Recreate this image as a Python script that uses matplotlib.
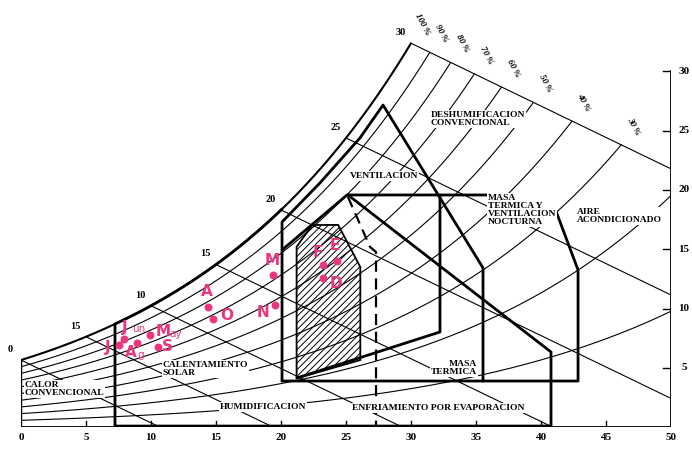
import numpy as np
import matplotlib.pyplot as plt
from matplotlib.patches import Polygon

plt.rcParams['font.family'] = ['Liberation Serif', 'DejaVu Serif']
plt.rcParams['hatch.linewidth'] = 0.7

# relative humidity curves and wet bulb lines of the chart
rh_levels = [1.0, 0.9, 0.8, 0.7, 0.6, 0.5, 0.4, 0.3, 0.2, 0.1]
rh_labels = ["100 %", "90 %", "80 %", "70 %", "60 %", "50 %", "40 %", "30 %"]
wb_temps = [0, 5, 10, 15, 20, 25, 30]
wb_texts = ["0", "15", "10", "15", "20", "25", "30"]

x_ticks = [0, 5, 10, 15, 20, 25, 30, 35, 40, 45, 50]
y_ticks = [5, 10, 15, 20, 25, 30]

# monthly mean conditions (dry bulb C, humidity ratio g/kg)
months = ["E", "F", "M", "A", "M", "J", "J", "A", "S", "O", "N", "D"]
suffix = ["", "", "", "", "ay", "un", "", "g", "", "", "", ""]
temp = [24.3, 23.2, 19.4, 14.4, 9.9, 7.9, 7.5, 8.9, 10.5, 14.8, 19.5, 23.2]
hum = [14.0, 13.7, 12.8, 10.1, 7.8, 7.4, 6.9, 7.1, 6.75, 9.1, 10.3, 12.6]

# zone outlines (dry bulb, humidity ratio)
comfort_t = [21.2, 21.2, 22.4, 24.4, 26.1, 26.1]
comfort_w = [4.1, 15.2, 17.05, 17.05, 13.5, 5.65]

heating_t = [7.23, 7.23, 40.77, 40.77, 25.15]
heating_w = [8.69, 0.08, 0.08, 6.33, 19.58]

mass_vn_t = [20.08, 25.08, 40.69, 42.85, 42.85, 20.08]
mass_vn_w = [14.94, 19.58, 19.58, 13.25, 3.88, 3.88]

vent_t = [20.08, 20.08, 23.0, 26.08, 27.85, 35.54, 35.54]
vent_w = [3.88, 17.3, 20.6, 24.4, 27.17, 13.42, 3.88]

mass_t = [32.23, 32.23, 21.23]
mass_w = [19.58, 8.02, 4.14]

dash_t = [25.15, 26.85, 27.31, 27.31]
dash_w = [19.41, 15.19, 14.77, 0.0]

WB_SLOPE = 0.53


def w_sat(t):
    return 5.65 * np.exp(0.06 * t - 0.00006 * t ** 2)


def w_top(t):
    return w_sat(30) - WB_SLOPE * (t - 30)


fig = plt.figure(figsize=(6.92, 4.54), dpi=100)
ax = fig.add_axes([21 / 692, 27 / 454, 650 / 692, 427 / 454])
ax.set_xlim(0, 50)
ax.set_ylim(0, 427 / 11.85)
ax.axis("off")

# RH curves, cut at the 30 C wet bulb line
t = np.linspace(0, 50, 2000)
for r in rh_levels:
    w = r * w_sat(t)
    keep = w <= w_top(t)
    lw = 1.5 if r == 1.0 else 0.8
    ax.plot(t[keep], w[keep], color="k", lw=lw, zorder=2)

# wet bulb lines
for tw in wb_temps:
    w0 = w_sat(tw)
    t_end = min(50, tw + w0 / WB_SLOPE)
    ax.plot([tw, t_end], [w0, w0 - WB_SLOPE * (t_end - tw)], color="k", lw=0.8, zorder=2)

# frame
ax.plot([0, 50], [0, 0], color="k", lw=1.3, zorder=3)
ax.plot([0, 0], [0, w_sat(0)], color="k", lw=1.0, zorder=3)
ax.plot([50, 50], [0, 30], color="k", lw=1.3, zorder=3)
for v in x_ticks[1:-1]:
    ax.plot([v, v], [0, 0.5], color="k", lw=1.0)
for v in x_ticks:
    ax.text(v, -0.85, str(v), ha="center", va="center", fontsize=8, fontweight="bold")
for v in y_ticks:
    ax.plot([49.4, 50], [v, v], color="k", lw=1.0)
    ax.text(51.0, v, str(v), ha="center", va="center", fontsize=8, fontweight="bold")

# wet bulb labels
for tw, s in zip(wb_temps, wb_texts):
    ax.text(tw - 0.8, w_sat(tw) + 0.9, s, ha="center", va="center", fontsize=7.5, fontweight="bold")

# RH labels along the top line
for r, s in zip(rh_levels, rh_labels):
    tt = t[(r * w_sat(t) <= w_top(t))][-1]
    ax.text(tt + 0.9, w_top(tt) + 1.6, s, rotation=-62, ha="center", va="center",
            fontsize=6.5, style="italic", fontweight="bold")

# comfort zone
ax.add_patch(Polygon(np.column_stack([comfort_t, comfort_w]), closed=True, facecolor="none",
                     edgecolor="k", lw=1.3, hatch="/////", zorder=3))

heavy = dict(color="k", lw=2.0, solid_joinstyle="round", solid_capstyle="round", zorder=4)
ts = np.linspace(7.23, 20.08, 50)
ax.plot(ts, w_sat(ts), **heavy)
ax.plot(heating_t, heating_w, **heavy)
ax.plot(mass_vn_t, mass_vn_w, **heavy)
ax.plot(vent_t, vent_w, **heavy)
ax.plot(mass_t, mass_w, **heavy)
ax.plot(dash_t, dash_w, color="k", lw=1.6, ls=(0, (5, 3)), zorder=4)

# zone names
box = dict(facecolor="white", edgecolor="none", pad=0.6)
zone_text = [
    (31.5, 26.0, "DESHUMIFICACION\nCONVENCIONAL", "left"),
    (25.3, 21.2, "VENTILACION", "left"),
    (35.9, 18.3, "MASA\nTERMICA Y\nVENTILACION\nNOCTURNA", "left"),
    (42.8, 17.8, "AIRE\nACONDICIONADO", "left"),
    (35.1, 5.0, "MASA\nTERMICA", "right"),
    (25.5, 1.6, "ENFRIAMIENTO POR EVAPORACION", "left"),
    (15.3, 1.7, "HUMIDIFICACION", "left"),
    (10.9, 4.9, "CALENTAMIENTO\nSOLAR", "left"),
    (0.3, 3.2, "CALOR\nCONVENCIONAL", "left"),
]
for x, y, s, ha in zone_text:
    ax.text(x, y, s, ha=ha, va="center", fontsize=6.8, fontweight="bold",
            linespacing=1.0, bbox=box, zorder=5)

# monthly points
pink = "#e8367f"
offsets = [(-2, 16), (-5, 12), (-1, 15), (-1, 16), (13, 3), (1, 12),
           (-11, -2), (-6, -10), (10, 1), (13, 4), (-12, -8), (13, -6)]
ax.scatter(temp, hum, s=22, color=pink, zorder=6)
for i in range(len(months)):
    ax.annotate(months[i], (temp[i], hum[i]), xytext=offsets[i], textcoords="offset pixels",
                ha="center", va="center", color=pink, fontsize=11, fontweight="bold",
                family="DejaVu Sans", zorder=6)
    if suffix[i]:
        ax.annotate(suffix[i], (temp[i], hum[i]), xytext=(offsets[i][0] + 7, offsets[i][1] - 2),
                    textcoords="offset pixels", ha="left", va="center", color=pink,
                    fontsize=7.5, family="DejaVu Sans", zorder=6)

fig.savefig("out.png", dpi=100)
